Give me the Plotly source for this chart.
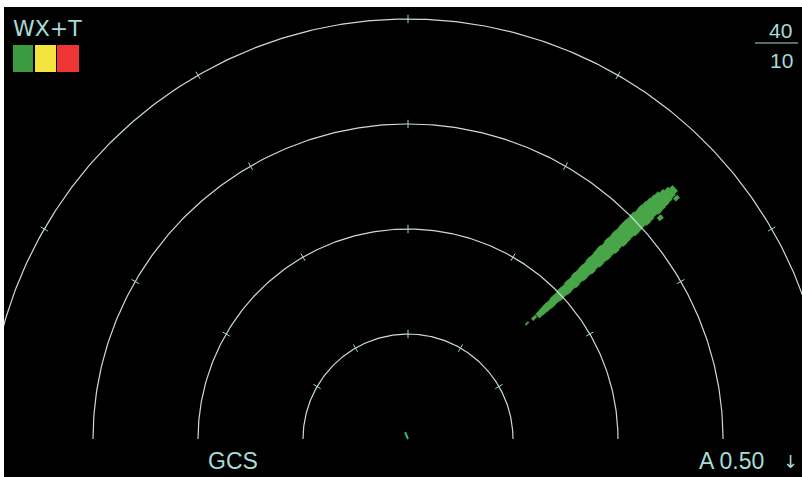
import numpy as np
import plotly.graph_objects as go

# range rings (nm) and tick bearings (deg, clockwise from up)
ring_ranges = [10, 20, 30, 40]
tick_bearings = [-60, -30, 0, 30, 60]

# weather returns: range bin start/end (nm), bearing min/max (deg)
wx_range_start = [15.6, 16.4, 17.0, 17.5, 18.0, 18.5, 19.0, 19.5, 20.0, 20.5,
                  21.0, 21.5, 22.0, 22.5, 23.0, 23.5, 24.0, 24.5, 25.0, 25.5,
                  26.0, 26.5, 27.0, 27.5, 28.0, 28.5, 29.0, 29.5, 30.0, 30.5,
                  31.0, 31.5, 32.0, 32.5, 33.0, 33.5, 34.0, 34.5, 31.7, 34.1]
wx_range_end = [16.0, 16.9, 17.5, 18.0, 18.5, 19.0, 19.5, 20.0, 20.5, 21.0,
                21.5, 22.0, 22.5, 23.0, 23.5, 24.0, 24.5, 25.0, 25.5, 26.0,
                26.5, 27.0, 27.5, 28.0, 28.5, 29.0, 29.5, 30.0, 30.5, 31.0,
                31.5, 32.0, 32.5, 33.0, 33.5, 34.0, 34.5, 34.9, 32.2, 34.6]
wx_bearing_min = [45.6, 45.7, 45.6, 45.5, 45.4, 45.5, 45.3, 45.4, 45.2, 45.3,
                  45.1, 45.2, 45.0, 45.1, 45.0, 45.1, 44.9, 45.0, 44.9, 44.8,
                  45.0, 44.8, 44.9, 44.8, 44.9, 44.8, 44.8, 44.9, 44.8, 45.0,
                  44.9, 45.0, 45.1, 45.2, 45.3, 45.6, 45.9, 46.2, 48.4, 47.8]
wx_bearing_max = [46.1, 46.6, 47.4, 47.5, 47.6, 47.7, 47.6, 47.8, 47.7, 47.9,
                  47.8, 48.0, 47.8, 48.0, 47.9, 48.1, 47.9, 48.1, 48.0, 48.1,
                  48.0, 48.2, 48.0, 48.2, 48.1, 48.0, 48.2, 48.1, 48.0, 48.2,
                  48.1, 47.9, 48.1, 48.0, 47.9, 47.8, 47.6, 47.4, 49.1, 48.4]

# own ship symbol
ownship_heading = -23
ownship_length = 0.7

# screen geometry
FIG_W, FIG_H = 802, 477
LEFT, TOP = 4, 7
CX, CY = 408, 439        # radar origin in pixels
PX_PER_NM = 10.5

PLOT_W = FIG_W - LEFT
PLOT_H = FIG_H - TOP

ARC = '#cbdcd8'
TEXT = '#a6dcd6'


def px_x(px):
    return (px - LEFT) / PLOT_W


def px_y(py):
    return (FIG_H - py) / PLOT_H


def polar_xy(r, brg):
    b = np.radians(brg)
    return r * np.sin(b), r * np.cos(b)


fig = go.Figure()

# weather cells
xs, ys = [], []
for r0, r1, b0, b1 in zip(wx_range_start, wx_range_end, wx_bearing_min, wx_bearing_max):
    bb = np.linspace(b0, b1, 6)
    x0, y0 = polar_xy(r0, bb)
    x1, y1 = polar_xy(r1, bb[::-1])
    xs += list(x0) + list(x1) + [x0[0], None]
    ys += list(y0) + list(y1) + [y0[0], None]
fig.add_trace(go.Scatter(x=xs, y=ys, mode='lines', fill='toself',
                         fillcolor='#48a648', line=dict(color='#48a648', width=0.5),
                         hoverinfo='skip'))

# range rings
brg = np.linspace(-90, 90, 361)
for r in ring_ranges:
    x, y = polar_xy(r, brg)
    fig.add_trace(go.Scatter(x=x, y=y, mode='lines', line=dict(color=ARC, width=1.2),
                             hoverinfo='skip'))

# ring ticks
tx, ty = [], []
for r in ring_ranges:
    for b in tick_bearings:
        x, y = polar_xy(np.array([r - 0.4, r + 0.4]), b)
        tx += list(x) + [None]
        ty += list(y) + [None]
fig.add_trace(go.Scatter(x=tx, y=ty, mode='lines', line=dict(color='#a9d8d0', width=1),
                         hoverinfo='skip'))

# own ship
ox, oy = polar_xy(np.array([0, ownship_length]), ownship_heading)
fig.add_trace(go.Scatter(x=ox, y=oy, mode='lines', line=dict(color='#2fb5a0', width=2),
                         hoverinfo='skip'))

# mode legend boxes
for x0, x1, c in [(13, 33, '#3c9a40'), (35, 56, '#f3e440'), (57, 79, '#ee3535')]:
    fig.add_shape(type='rect', xref='paper', yref='paper',
                  x0=px_x(x0), x1=px_x(x1), y0=px_y(72), y1=px_y(45),
                  fillcolor=c, line=dict(width=0), layer='above')

# range scale divider
fig.add_shape(type='line', xref='paper', yref='paper',
              x0=px_x(755), x1=px_x(798), y0=px_y(43), y1=px_y(43),
              line=dict(color=TEXT, width=1))

labels = [
    ('WX+T', 11, 28, 'left', 22, 'DejaVu Sans'),
    ('40', 780, 31, 'center', 21, 'Liberation Sans'),
    ('10', 781, 60, 'center', 21, 'Liberation Sans'),
    ('GCS', 233, 461, 'center', 23, 'Liberation Sans'),
    ('A 0.50', 731, 461, 'center', 23, 'Liberation Sans'),
    ('↓', 790, 461, 'center', 18, 'DejaVu Sans'),
]
for txt, x, y, anchor, size, fam in labels:
    fig.add_annotation(text=txt, xref='paper', yref='paper', x=px_x(x), y=px_y(y),
                       xanchor=anchor, yanchor='middle', showarrow=False,
                       font=dict(family=fam, size=size, color=TEXT))

fig.update_layout(
    width=FIG_W, height=FIG_H,
    margin=dict(l=LEFT, r=0, t=TOP, b=0, pad=0, autoexpand=False),
    paper_bgcolor='white', plot_bgcolor='black',
    showlegend=False,
    xaxis=dict(range=[(LEFT - CX) / PX_PER_NM, (FIG_W - CX) / PX_PER_NM],
               visible=False, fixedrange=True),
    yaxis=dict(range=[(CY - FIG_H) / PX_PER_NM, (CY - TOP) / PX_PER_NM],
               visible=False, fixedrange=True),
)

# drop the default page margin so the figure fills the window
fig.write_html("out.html", config={'displayModeBar': False},
               post_script="document.body.style.margin='0';document.body.style.overflow='hidden';")
